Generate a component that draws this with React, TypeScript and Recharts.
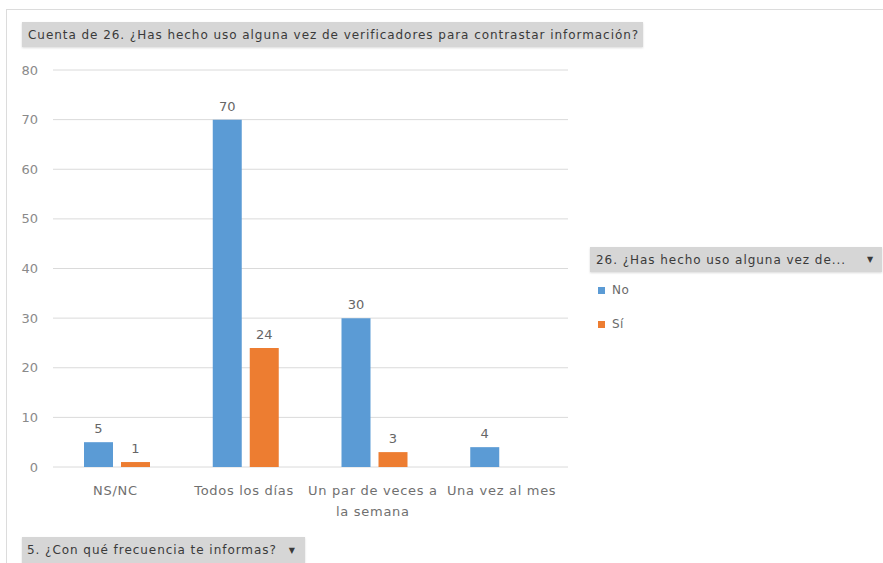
import React from 'react';
import { BarChart, Bar, XAxis, YAxis, CartesianGrid, LabelList } from 'recharts';

// Pivot chart: frequency of getting informed vs. use of fact-checkers
const categories = ['NS/NC', 'Todos los días', 'Un par de veces a la semana', 'Una vez al mes'];
const noValues = [5, 70, 30, 4];
const siValues: (number | null)[] = [1, 24, 3, null];
const yTicks = [0, 10, 20, 30, 40, 50, 60, 70, 80];

const seriesNames = ['No', 'Sí'];
const seriesColors = ['#5B9BD5', '#ED7D31'];

const chartTitle = 'Cuenta de 26. ¿Has hecho uso alguna vez de verificadores para contrastar información?';
const legendTitle = '26. ¿Has hecho uso alguna vez de...';
const axisFieldTitle = '5. ¿Con qué frecuencia te informas?';

const data = categories.map((name, i) => ({ name, no: noValues[i], si: siValues[i] }));

const FONT = '"DejaVu Sans", "Open Sans", sans-serif';
const boxStyle: React.CSSProperties = {
  position: 'absolute',
  background: '#d6d6d6',
  color: '#3a3a3a',
  fontSize: 12,
  letterSpacing: 0.95,
  fontFamily: FONT,
  boxSizing: 'border-box',
  display: 'flex',
  alignItems: 'center',
  whiteSpace: 'nowrap',
  boxShadow: '0 1px 2px rgba(0,0,0,0.15)',
};

// wrap long category names onto two lines, like Excel does
const wrap = (text: string, max = 17) => {
  const lines: string[] = [];
  let cur = '';
  text.split(' ').forEach((w) => {
    if (cur && (cur + ' ' + w).length > max) {
      lines.push(cur);
      cur = w;
    } else {
      cur = cur ? cur + ' ' + w : w;
    }
  });
  if (cur) lines.push(cur);
  return lines;
};

const CategoryTick = (props: any) => {
  const { x, y, payload } = props;
  const lines = wrap(payload.value);
  return (
    <text x={x} y={y} textAnchor="middle" fill="#707070" fontSize={13} fontFamily={FONT} letterSpacing={0.7}>
      {lines.map((l, i) => (
        <tspan key={i} x={x - 2} dy={i === 0 ? '0.71em' : 21}>
          {l}
        </tspan>
      ))}
    </text>
  );
};

export default function App() {
  return (
    <div style={{ position: 'absolute', left: 0, top: 0, width: 883, height: 563, background: '#fff', overflow: 'hidden' }}>
      <div
        style={{
          position: 'absolute',
          left: 6,
          top: 9,
          width: 900,
          height: 600,
          border: '1px solid #dcdcdc',
          boxSizing: 'border-box',
        }}
      />
      <BarChart
        width={883}
        height={563}
        data={data}
        margin={{ top: 70, right: 315, bottom: 36, left: 0 }}
        barCategoryGap={31}
        barGap={8}
        style={{ position: 'absolute', left: 0, top: 0 }}
      >
        <CartesianGrid vertical={false} stroke="#dadada" />
        <XAxis
          dataKey="name"
          axisLine={false}
          tickLine={false}
          interval={0}
          height={60}
          tickMargin={13}
          tick={<CategoryTick />}
        />
        <YAxis
          width={53}
          domain={[0, 80]}
          ticks={yTicks}
          axisLine={false}
          tickLine={false}
          tickMargin={9}
          tick={{ fill: '#8a8a8a', fontSize: 13, fontFamily: FONT }}
        />
        <Bar dataKey="no" name={seriesNames[0]} fill={seriesColors[0]} isAnimationActive={false}>
          <LabelList dataKey="no" position="top" offset={9} fill="#666" fontSize={13} fontFamily={FONT} />
        </Bar>
        <Bar dataKey="si" name={seriesNames[1]} fill={seriesColors[1]} isAnimationActive={false}>
          <LabelList dataKey="si" position="top" offset={9} fill="#666" fontSize={13} fontFamily={FONT} />
        </Bar>
      </BarChart>

      <div style={{ ...boxStyle, left: 22, top: 22, width: 621, height: 25, paddingLeft: 6 }}>{chartTitle}</div>

      <div style={{ ...boxStyle, left: 590, top: 247, width: 292, height: 25, paddingLeft: 6, justifyContent: 'space-between' }}>
        <span>{legendTitle}</span>
        <span style={{ fontSize: 8, paddingRight: 8 }}>▼</span>
      </div>
      {seriesNames.map((n, i) => (
        <div
          key={n}
          style={{
            position: 'absolute',
            left: 598,
            top: 283 + i * 34,
            display: 'flex',
            alignItems: 'center',
            fontFamily: FONT,
            fontSize: 12,
            letterSpacing: 0.5,
            color: '#6a6a6a',
          }}
        >
          <span style={{ width: 7, height: 7, background: seriesColors[i], marginRight: 7 }} />
          {n}
        </div>
      ))}

      <div style={{ ...boxStyle, left: 22, top: 537, width: 283, height: 26, paddingLeft: 5 }}>
        <span>{axisFieldTitle}</span>
        <span style={{ fontSize: 8, marginLeft: 12 }}>▼</span>
      </div>
    </div>
  );
}
